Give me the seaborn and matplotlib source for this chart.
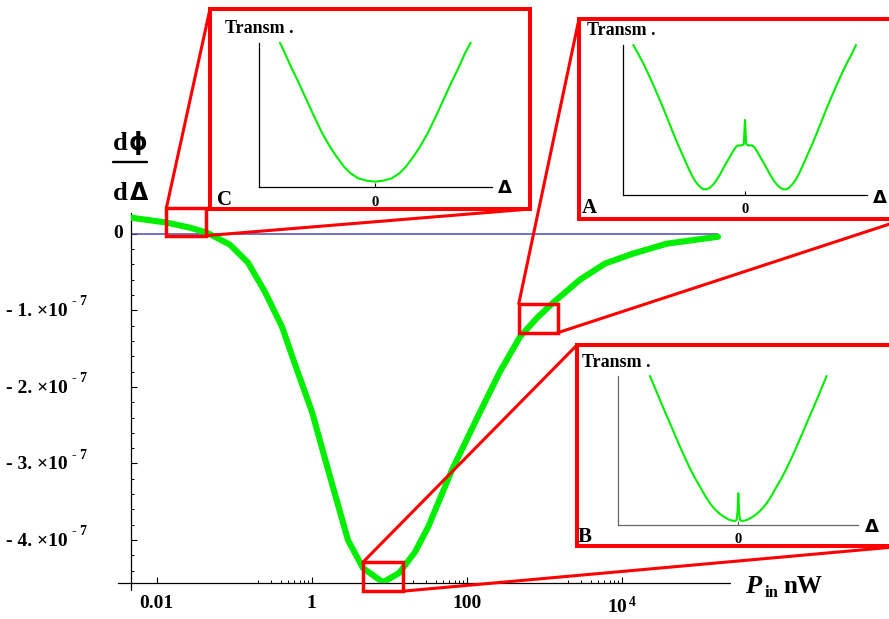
import numpy as np
import pandas as pd
import matplotlib
matplotlib.use("Agg")
import matplotlib.pyplot as plt
from matplotlib.patches import Rectangle, ConnectionPatch
from matplotlib.lines import Line2D
from matplotlib.ticker import FixedLocator, MultipleLocator, NullFormatter
import seaborn as sns

# ---- main curve: dphi/dDelta versus input power (dphi in units of 1e-7) ----
power_nw = [0.00466, 0.0136, 0.0269, 0.0446, 0.0883, 0.151, 0.249, 0.414,
            0.646, 1.01, 1.63, 2.94, 4.59, 8.32, 13.4, 21.5, 31.8, 64.6,
            149, 269, 488, 807, 1300, 2900, 6100, 14000, 38500, 175000]
dphi_e7 = [0.209, 0.144, 0.078, 0.013, -0.144, -0.379, -0.758, -1.216,
           -1.778, -2.327, -3.085, -4.0, -4.366, -4.55, -4.431, -4.157, -3.83, -3.085,
           -2.327, -1.80, -1.346, -1.10, -0.902, -0.60, -0.39, -0.26, -0.13, -0.04]

x_ticks = [0.01, 1, 100, 1e4]
x_tick_labels = ["0.01", "1", "100", r"$10^{\,4}$"]
y_ticks_e7 = [0, -1, -2, -3, -4]
y_mantissas = ["0", "- 1.", "- 2.", "- 3.", "- 4."]
y_exponent = "- 7"

# zoom windows on the main curve: (P_lo, P_hi, dphi_lo, dphi_hi), dphi in 1e-7
zoom_c = (0.01337, 0.04325, -0.026, 0.340)
zoom_a = (470, 1486, -1.294, -0.915)
zoom_b = (4.59, 14.9, -4.667, -4.288)

# ---- transmission profiles shown in the insets (relative detuning, relative T) ----
delta_c = [-0.814, -0.771, -0.720, -0.651, -0.586, -0.520, -0.451, -0.386, -0.329,
           -0.266, -0.209, -0.143, -0.071, 0.0,
           0.071, 0.143, 0.209, 0.266, 0.329, 0.386, 0.451, 0.520, 0.586, 0.651,
           0.720, 0.771, 0.820]
trans_c = [1.000, 0.926, 0.834, 0.719, 0.604, 0.488, 0.373, 0.281, 0.212,
           0.143, 0.097, 0.062, 0.046, 0.039,
           0.046, 0.062, 0.097, 0.143, 0.212, 0.281, 0.373, 0.488, 0.604, 0.719,
           0.834, 0.926, 1.000]

delta_a = [-0.918, -0.877, -0.836, -0.795, -0.753, -0.712, -0.671, -0.630, -0.589,
           -0.548, -0.507, -0.470, -0.438, -0.410, -0.384, -0.362, -0.342, -0.315,
           -0.288, -0.260, -0.233, -0.205, -0.178, -0.151, -0.123, -0.100, -0.077,
           -0.062, -0.048, -0.022, -0.010, 0.0, 0.010, 0.022, 0.048, 0.062, 0.077,
           0.100, 0.123, 0.151, 0.178, 0.205, 0.233, 0.260, 0.288, 0.315, 0.342,
           0.362, 0.384, 0.410, 0.438, 0.470, 0.507, 0.548, 0.589, 0.630, 0.671,
           0.712, 0.753, 0.795, 0.836, 0.877, 0.912]
trans_a = [1.000, 0.940, 0.878, 0.808, 0.733, 0.656, 0.578, 0.494, 0.411,
           0.331, 0.256, 0.188, 0.133, 0.093, 0.067, 0.049, 0.038, 0.038,
           0.049, 0.071, 0.100, 0.138, 0.178, 0.218, 0.256, 0.290, 0.318,
           0.329, 0.331, 0.331, 0.340, 0.500, 0.340, 0.331, 0.331, 0.329, 0.318,
           0.290, 0.256, 0.218, 0.178, 0.138, 0.100, 0.071, 0.049, 0.038, 0.038,
           0.049, 0.067, 0.093, 0.133, 0.188, 0.256, 0.331, 0.411, 0.494, 0.578,
           0.656, 0.733, 0.808, 0.878, 0.940, 1.000]

delta_b = [-0.736, -0.694, -0.653, -0.611, -0.569, -0.528, -0.486, -0.444, -0.403,
           -0.361, -0.319, -0.278, -0.236, -0.194, -0.153, -0.118, -0.083, -0.055,
           -0.028, -0.014, -0.006, 0.0, 0.006, 0.014, 0.028, 0.055, 0.083, 0.118,
           0.153, 0.194, 0.236, 0.278, 0.319, 0.361, 0.403, 0.444, 0.486, 0.528,
           0.569, 0.611, 0.653, 0.694, 0.736]
trans_b = [1.000, 0.919, 0.839, 0.760, 0.682, 0.604, 0.526, 0.451, 0.380,
           0.315, 0.257, 0.198, 0.145, 0.105, 0.074, 0.054, 0.038, 0.030,
           0.027, 0.034, 0.090, 0.213, 0.090, 0.034, 0.027, 0.030, 0.038, 0.054,
           0.074, 0.105, 0.145, 0.198, 0.257, 0.315, 0.380, 0.451, 0.526, 0.604,
           0.682, 0.760, 0.839, 0.919, 1.000]

GREEN = "#00ee00"
RED = "#ff0000"
BLUE = "#4b4ba8"
SERIF = "Liberation Serif"
GREEK = "DejaVu Sans"

sns.set_theme(style="white")
plt.rcParams.update({
    "font.family": [SERIF, "DejaVu Sans"],
    "font.weight": "bold",
    "text.color": "black",
    "axes.labelcolor": "black",
    "xtick.color": "black",
    "ytick.color": "black",
    "mathtext.fontset": "custom",
    "mathtext.rm": "Liberation Serif:bold",
    "mathtext.bf": "Liberation Serif:bold",
    "mathtext.it": "Liberation Serif:bold:italic",
    "mathtext.default": "bf",
})

W, H = 889, 619
fig = plt.figure(figsize=(W / 100, H / 100), dpi=100)
fig.patch.set_facecolor("white")


def fbox(x0, y0, x1, y1):
    return [x0 / W, 1 - y1 / H, (x1 - x0) / W, (y1 - y0) / H]


def fpt(px, py):
    return (px / W, 1 - py / H)


def ftext(px, py, s, **kw):
    kw.setdefault("va", "baseline")
    kw.setdefault("ha", "left")
    kw.setdefault("zorder", 7)
    kw.setdefault("color", "black")
    fig.text(px / W, 1 - py / H, s, **kw)


# ---------------- main panel ----------------
ax = fig.add_axes(fbox(131, 213, 730, 583))
ax.patch.set_alpha(0)
df = pd.DataFrame({"P": power_nw, "dphi": np.array(dphi_e7) * 1e-7})
ax.hlines(0, power_nw[0], power_nw[-1], color=BLUE, lw=1.1, zorder=2)
sns.lineplot(data=df, x="P", y="dphi", ax=ax, color=GREEN, linewidth=4.4,
             sort=False, estimator=None, zorder=3)
ax.set_xscale("log")
ax.set_xlim(0.00466, 2.5e5)
ax.set_ylim(-4.56e-7, 0.27e-7)
ax.set_xlabel("")
ax.set_ylabel("")
for s in ax.spines.values():
    s.set_visible(False)
ax.add_line(Line2D([-13 / 599, 1], [0, 0], transform=ax.transAxes, color="black",
                   lw=0.9, clip_on=False))
ax.add_line(Line2D([0, 0], [-7 / 370, 1], transform=ax.transAxes, color="black",
                   lw=0.9, clip_on=False))

ax.xaxis.set_major_locator(FixedLocator(x_ticks))
ax.xaxis.set_minor_locator(FixedLocator([k * t / 10 for t in x_ticks[1:] for k in range(2, 10)]))
ax.set_xticks(x_ticks, labels=x_tick_labels)
ax.xaxis.set_minor_formatter(NullFormatter())
ax.set_yticks([v * 1e-7 for v in y_ticks_e7])
ax.yaxis.set_major_formatter(NullFormatter())
ax.yaxis.set_minor_locator(MultipleLocator(0.2e-7))
ax.tick_params(which="both", bottom=True, left=True, top=False, right=False)
ax.tick_params(which="major", direction="in", length=4.5, width=0.8, color="black")
ax.tick_params(which="minor", direction="in", length=2.5, width=0.7, color="black")
ax.tick_params(axis="x", which="major", labelsize=14, pad=9, labelcolor="black")
for lbl in ax.get_xticklabels():
    lbl.set_fontfamily(SERIF)
    lbl.set_fontweight("bold")

ytr = ax.get_yaxis_transform()
for v, mant in zip(y_ticks_e7, y_mantissas):
    if v == 0:
        ax.annotate(mant, xy=(0, 0), xycoords=ytr, xytext=(-5.8, 0), textcoords="offset points",
                    ha="right", va="center", fontsize=14, fontweight="bold", family=SERIF,
                    color="black", annotation_clip=False)
    else:
        ax.annotate(mant + " \u00d710", xy=(0, v * 1e-7), xycoords=ytr, xytext=(-45.4, -1),
                    textcoords="offset points", ha="right", va="center", fontsize=14,
                    fontweight="bold", family=SERIF, color="black", annotation_clip=False)
        ax.annotate(y_exponent, xy=(0, v * 1e-7), xycoords=ytr, xytext=(-42.5, 6),
                    textcoords="offset points", ha="left", va="center", fontsize=10,
                    fontweight="bold", family=SERIF, color="black", annotation_clip=False)

# axis titles
ftext(745, 593, "P", family=SERIF, weight="bold", style="italic", size=19)
ftext(765, 597, "in", family=SERIF, weight="bold", size=12)
ftext(783, 593, "nW", family=SERIF, weight="bold", size=18)
ftext(113, 150, "d", family=SERIF, weight="bold", size=19)
ftext(129, 150, "\u03d5", family=GREEK, weight="bold", size=17)
fig.add_artist(Line2D([113 / W, 147 / W], [1 - 162 / H, 1 - 162 / H], color="black",
                      lw=1.7, transform=fig.transFigure))
ftext(113, 200, "d", family=SERIF, weight="bold", size=19)
ftext(130, 200, "\u0394", family=GREEK, weight="bold", size=17)

# ---------------- insets ----------------
insets = [
    # name, frame px, axes px, xlim, delta, trans, axis colour, zoom window,
    # title pos, letter pos, delta-label pos
    ("C", (210, 9, 530, 209), (259.3, 42.7, 491.7, 187.3), (-0.991, 1.0), delta_c, trans_c,
     "black", zoom_c, (225, 33), (217, 205), (498, 193)),
    ("A", (579, 19, 905, 219), (623.3, 45, 866.7, 195), (-1.0, 1.0), delta_a, trans_a,
     "black", zoom_a, (587, 35), (582, 213), (873, 203)),
    ("B", (577, 345, 905, 546), (618.3, 376, 858.3, 525), (-1.0, 1.0), delta_b, trans_b,
     "#666666", zoom_b, (582, 367), (578, 542), (865, 532)),
]

for name, frame, abox, xlim, dl, tr, acol, zw, tpos, lpos, dpos in insets:
    x0, y0, x1, y1 = frame
    fig.add_artist(Rectangle(fpt(x0, y1), (x1 - x0) / W, (y1 - y0) / H,
                             transform=fig.transFigure, facecolor="white",
                             edgecolor=RED, lw=2.9, zorder=4))
    iax = fig.add_axes(fbox(*abox), zorder=5)
    iax.patch.set_alpha(0)
    sns.lineplot(x=dl, y=tr, ax=iax, color=GREEN, linewidth=1.5, sort=False,
                 estimator=None, clip_on=False)
    iax.set_xlim(*xlim)
    iax.set_ylim(0, 1)
    iax.set_xlabel("")
    iax.set_ylabel("")
    for s in ("top", "right"):
        iax.spines[s].set_visible(False)
    for s in ("left", "bottom"):
        iax.spines[s].set_color(acol)
        iax.spines[s].set_linewidth(0.9)
    iax.set_yticks([])
    iax.set_xticks([0], labels=["0"])
    iax.tick_params(axis="x", bottom=True, direction="in", length=3, width=0.8, color=acol,
                    pad=6, labelsize=10.5, labelcolor="black")
    for lbl in iax.get_xticklabels():
        lbl.set_fontfamily(SERIF)
        lbl.set_fontweight("bold")
    ftext(*tpos, "Transm .", family=SERIF, weight="bold", size=13)
    ftext(*lpos, name, family=SERIF, weight="bold", size=15)
    ftext(*dpos, "\u0394", family=GREEK, weight="bold", size=13)

    # zoom window on the main curve and its connectors to the inset frame
    p_lo, p_hi, d_lo, d_hi = zw
    ax.add_patch(Rectangle((p_lo, d_lo * 1e-7), p_hi - p_lo, (d_hi - d_lo) * 1e-7,
                           fill=False, edgecolor=RED, lw=2.5, clip_on=False, zorder=6))
    for xyA, xyB in (((p_lo, d_hi * 1e-7), fpt(x0, y0)), ((p_hi, d_lo * 1e-7), fpt(x1, y1))):
        fig.add_artist(ConnectionPatch(xyA=xyA, coordsA=ax.transData, xyB=xyB,
                                       coordsB=fig.transFigure, color=RED, lw=2.2,
                                       shrinkA=0, shrinkB=0, zorder=3))

fig.savefig("out.png", dpi=100, facecolor="white")
